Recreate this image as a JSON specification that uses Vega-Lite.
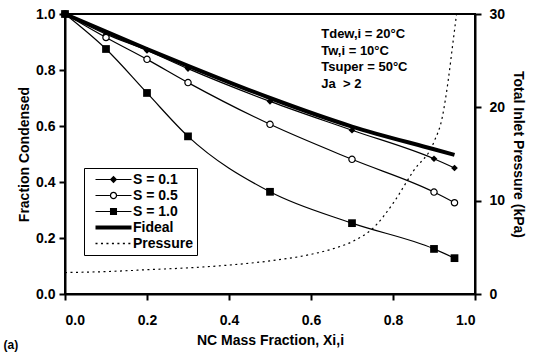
{
  "$schema": "https://vega.github.io/schema/vega-lite/v6.json",
  "width": 410,
  "height": 280,
  "autosize": {"type": "none"},
  "padding": {"left": 65, "top": 14, "right": 58, "bottom": 59},
  "config": {
    "view": {"stroke": "black", "strokeWidth": 2},
    "font": "Liberation Sans",
    "axis": {
      "domainColor": "black", "domainWidth": 2, "tickColor": "black", "tickWidth": 2, "tickSize": 6,
      "labelFont": "Liberation Sans", "labelFontSize": 14, "labelFontWeight": "bold", "labelColor": "black",
      "titleFont": "Liberation Sans", "titleFontSize": 14, "titleFontWeight": "bold", "titleColor": "black",
      "grid": false
    }
  },
  "datasets": {
    "main": [
      {"series": "S = 0.1", "x": 0, "y": 1.0},
      {"series": "S = 0.1", "x": 0.1, "y": 0.928},
      {"series": "S = 0.1", "x": 0.2, "y": 0.87},
      {"series": "S = 0.1", "x": 0.3, "y": 0.805},
      {"series": "S = 0.1", "x": 0.5, "y": 0.688},
      {"series": "S = 0.1", "x": 0.7, "y": 0.585},
      {"series": "S = 0.1", "x": 0.9, "y": 0.483},
      {"series": "S = 0.1", "x": 0.95, "y": 0.45},
      {"series": "S = 0.5", "x": 0, "y": 1.0},
      {"series": "S = 0.5", "x": 0.1, "y": 0.916},
      {"series": "S = 0.5", "x": 0.2, "y": 0.838},
      {"series": "S = 0.5", "x": 0.3, "y": 0.755},
      {"series": "S = 0.5", "x": 0.5, "y": 0.606},
      {"series": "S = 0.5", "x": 0.7, "y": 0.481},
      {"series": "S = 0.5", "x": 0.9, "y": 0.364},
      {"series": "S = 0.5", "x": 0.95, "y": 0.326},
      {"series": "S = 1.0", "x": 0, "y": 1.0},
      {"series": "S = 1.0", "x": 0.1, "y": 0.875},
      {"series": "S = 1.0", "x": 0.2, "y": 0.718},
      {"series": "S = 1.0", "x": 0.3, "y": 0.563},
      {"series": "S = 1.0", "x": 0.5, "y": 0.365},
      {"series": "S = 1.0", "x": 0.7, "y": 0.253},
      {"series": "S = 1.0", "x": 0.9, "y": 0.161},
      {"series": "S = 1.0", "x": 0.95, "y": 0.128},
      {"series": "Fideal", "x": 0, "y": 1.0},
      {"series": "Fideal", "x": 0.1, "y": 0.937},
      {"series": "Fideal", "x": 0.2, "y": 0.875},
      {"series": "Fideal", "x": 0.3, "y": 0.815},
      {"series": "Fideal", "x": 0.5, "y": 0.70},
      {"series": "Fideal", "x": 0.7, "y": 0.598},
      {"series": "Fideal", "x": 0.9, "y": 0.517},
      {"series": "Fideal", "x": 0.95, "y": 0.497}
    ],
    "pressure": [
      {"x": 0, "p": 2.3},
      {"x": 0.1, "p": 2.4},
      {"x": 0.2, "p": 2.6},
      {"x": 0.3, "p": 2.8},
      {"x": 0.4, "p": 3.1},
      {"x": 0.5, "p": 3.55},
      {"x": 0.6, "p": 4.25},
      {"x": 0.65, "p": 4.8},
      {"x": 0.7, "p": 5.6},
      {"x": 0.75, "p": 7.0},
      {"x": 0.8, "p": 9.7},
      {"x": 0.85, "p": 13.2},
      {"x": 0.9, "p": 16.3},
      {"x": 0.92, "p": 18.9},
      {"x": 0.935, "p": 23.0},
      {"x": 0.945, "p": 26.5},
      {"x": 0.955, "p": 30}
    ],
    "notes": [
      {"t": "Tdew,i = 20°C\nTw,i = 10°C\nTsuper = 50°C\nJa\u00a0 > 2"}
    ],
    "tag": [
      {"t": "(a)"}
    ]
  },
  "layer": [
    {
      "data": {"name": "main"},
      "encoding": {
        "x": {"field": "x", "type": "quantitative", "scale": {"domain": [0, 1]},
              "axis": {"values": [0, 0.2, 0.4, 0.6, 0.8, 1.0], "format": ".1f", "title": "NC Mass Fraction, Xi,i", "labelPadding": 13, "titlePadding": 6}},
        "y": {"field": "y", "type": "quantitative", "scale": {"domain": [0, 1]},
              "axis": {"values": [0, 0.2, 0.4, 0.6, 0.8, 1.0], "format": ".1f", "title": "Fraction Condensed", "labelPadding": 4, "titlePadding": 4}}
      },
      "layer": [
        {
          "transform": [{"filter": "datum.series != 'Fideal'"}],
          "mark": {"type": "line", "color": "black", "strokeWidth": 1.2, "interpolate": "monotone"},
          "encoding": {"detail": {"field": "series", "type": "nominal"}}
        },
        {
          "transform": [{"filter": "datum.series == 'Fideal'"}],
          "mark": {"type": "line", "color": "black", "strokeWidth": 4, "interpolate": "monotone"}
        },
        {
          "transform": [{"filter": "datum.series == 'S = 0.1'"}],
          "mark": {"type": "point", "shape": "diamond", "filled": true, "color": "black", "size": 45, "opacity": 1}
        },
        {
          "transform": [{"filter": "datum.series == 'S = 0.5'"}],
          "mark": {"type": "point", "shape": "circle", "filled": false, "fill": "white", "stroke": "black", "strokeWidth": 1.2, "size": 40, "opacity": 1}
        },
        {
          "transform": [{"filter": "datum.series == 'S = 1.0'"}],
          "mark": {"type": "point", "shape": "square", "filled": true, "color": "black", "size": 60, "opacity": 1}
        },
        {
          "mark": {"type": "point", "filled": true, "color": "black", "opacity": 0},
          "encoding": {
            "shape": {
              "field": "series", "type": "nominal",
              "scale": {
                "domain": ["S = 0.1", "S = 0.5", "S = 1.0", "Fideal", "Pressure"],
                "range": [
                  "M0,-0.08H4.8V0.08H0Z M2.4,-0.49L2.89,0L2.4,0.49L1.91,0Z",
                  "M0,-0.08H1.91V0.08H0Z M2.89,-0.08H4.8V0.08H2.89Z M1.91,0A0.49,0.49 0 1,1 2.89,0A0.49,0.49 0 1,1 1.91,0Z M2.08,0A0.32,0.32 0 1,0 2.72,0A0.32,0.32 0 1,0 2.08,0Z",
                  "M0,-0.08H4.8V0.08H0Z M1.93,-0.47H2.87V0.47H1.93Z",
                  "M0,-0.27H4.8V0.27H0Z",
                  "M0,-0.09h0.27v0.18h-0.27Z M0.73,-0.09h0.27v0.18h-0.27Z M1.46,-0.09h0.27v0.18h-0.27Z M2.19,-0.09h0.27v0.18h-0.27Z M2.92,-0.09h0.27v0.18h-0.27Z M3.65,-0.09h0.27v0.18h-0.27Z M4.38,-0.09h0.27v0.18h-0.27Z"
                ]
              },
              "legend": {
                "title": null, "orient": "none", "legendX": 19, "legendY": 154,
                "strokeColor": "black", "fillColor": "white", "padding": 4,
                "symbolSize": 225, "symbolOpacity": 1, "symbolFillColor": "black", "symbolStrokeWidth": 0,
                "labelFont": "Liberation Sans", "labelFontSize": 14, "labelFontWeight": "bold", "labelColor": "black",
                "labelOffset": 30, "rowPadding": 1
              }
            }
          }
        }
      ]
    },
    {
      "data": {"name": "pressure"},
      "mark": {"type": "line", "color": "black", "strokeWidth": 1.2, "strokeDash": [2, 3.5], "interpolate": "monotone"},
      "encoding": {
        "x": {"field": "x", "type": "quantitative", "scale": {"domain": [0, 1]}},
        "y": {"field": "p", "type": "quantitative", "scale": {"domain": [0, 30]},
              "axis": {"orient": "right", "values": [0, 10, 20, 30], "title": "Total Inlet Pressure (kPa)", "labelPadding": 8, "titlePadding": 6}}
      }
    },
    {
      "data": {"name": "notes"},
      "mark": {"type": "text", "align": "left", "baseline": "top", "font": "Liberation Sans", "fontSize": 13, "fontWeight": "bold", "fill": "black", "opacity": 1, "lineHeight": 16.5, "lineBreak": "\n"},
      "encoding": {
        "x": {"datum": 0.625, "type": "quantitative", "scale": {"domain": [0, 1]}},
        "y": {"datum": 0.95, "type": "quantitative", "scale": {"domain": [0, 1]}, "axis": null},
        "text": {"field": "t", "type": "nominal"}
      }
    },
    {
      "data": {"name": "tag"},
      "mark": {"type": "text", "align": "left", "baseline": "top", "font": "Liberation Sans", "fontSize": 12, "fontWeight": "bold", "fill": "black", "opacity": 1},
      "encoding": {
        "x": {"datum": -0.15, "type": "quantitative", "scale": {"domain": [0, 1]}},
        "y": {"datum": -0.165, "type": "quantitative", "scale": {"domain": [0, 1]}, "axis": null},
        "text": {"field": "t", "type": "nominal"}
      }
    }
  ],
  "resolve": {"scale": {"y": "independent"}}
}
